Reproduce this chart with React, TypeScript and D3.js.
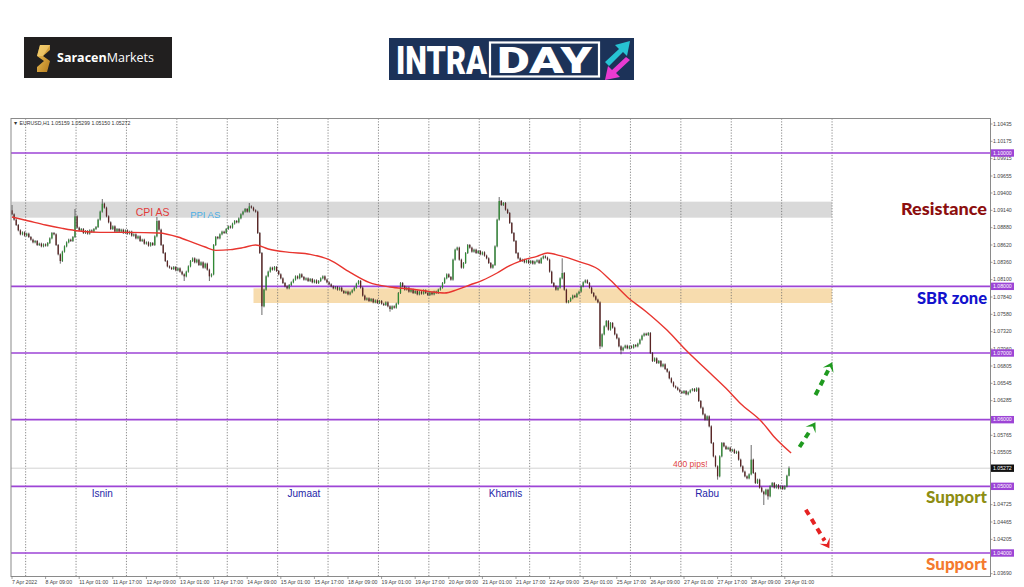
import React from "react";
import * as d3 from "d3";

// ---- DATA (prices in pips above 1.0000, e.g. 912 = 1.0912) ----
const firstOpen = 914;
const closes: number[] = [
  908, 900, 892,
  884, 878, 881, 876, 879, 874,
  870, 866, 868, 862, 864, 860, 863, 861, 865,
  872, 880, 878,
  862, 848, 838,
  852, 860, 866, 870, 868, 874,
  905, 888,
  884, 886, 880, 883, 879, 884, 882, 886, 889,
  900, 912, 924, 918,
  905, 896, 886, 890, 882,
  886, 882, 885, 880, 884, 879, 882, 876, 878, 872, 875, 868, 870, 864, 866, 861, 865, 862,
  875, 898, 885,
  862, 850, 838, 830,
  828, 826, 829, 824, 827, 822, 818, 815,
  822, 830, 838, 842, 836, 840, 832, 836, 828, 834, 825,
  815, 818,
  862, 874, 872,
  878, 882, 880, 886, 890, 888, 894, 898, 896, 902,
  908, 912, 916, 912, 920, 918, 914, 912,
  880, 850, 770, 795, 815, 822,
  828, 825, 829, 823, 818, 812,
  805, 800, 797, 802,
  806, 810, 815, 812, 818, 814, 810, 812, 808, 811, 806, 809, 805, 808, 812, 815, 810, 806, 803,
  800, 797, 799, 795, 798, 793, 790, 792, 788, 791, 794, 798, 804, 808,
  798, 786, 780, 782, 778, 781, 776, 779, 775, 778, 774, 772, 776, 770, 766, 770, 768, 774,
  790, 805, 800,
  795, 798, 792, 795, 790, 793, 788, 792, 789, 794, 790, 787, 791, 788, 792, 790, 795, 798,
  805, 812, 818, 814, 810,
  840, 855, 858,
  840, 828, 835,
  850, 862, 858,
  852, 855, 850, 853, 848, 851, 846, 842,
  835, 828, 832,
  860, 900, 928,
  922, 925, 915, 910,
  895, 880, 868, 850,
  842, 838, 840, 836, 839, 835, 838, 834, 837, 839, 835,
  842, 845, 843, 840,
  822, 805, 800,
  795, 798,
  812, 820,
  795, 776, 778,
  782, 786, 784, 789, 792,
  800, 806, 809, 805,
  798, 790, 785, 780, 776,
  710,
  728, 740, 748, 735, 745, 738,
  728, 722, 710, 704,
  708, 711, 707, 710, 708, 712, 710, 714,
  720, 726, 729, 727, 730,
  700, 688,
  692, 685, 688, 680, 683, 676, 672,
  662, 656, 650, 648, 645,
  642, 640, 643, 638, 641, 644, 646, 643, 647,
  628, 618,
  608, 600, 605, 590,
  565, 545, 530, 515,
  545, 565,
  560, 556, 558, 553, 555, 550, 552,
  540, 530, 522, 515, 512,
  518, 540,
  520, 505, 510, 498,
  492, 488, 495, 485,
  500, 505, 498, 502, 497, 500, 496,
  500, 515.9, 527.2,
];
const highSpikes: [number, number][] = [
  [0, 922], [30, 916], [43, 931], [69, 904], [113, 925], [232, 934], [262, 842], [352, 562], [370, 529.9],
];
const lowSpikes: [number, number][] = [
  [23, 834], [82, 808], [94, 808], [119, 757], [180, 762], [280, 706], [290, 698], [336, 510], [358, 472], [360, 480], [370, 515],
];
const maPoints: [number, number][] = [
  [0, 904], [8, 898], [16, 892], [24, 887], [32, 883], [42, 881], [56, 881], [70, 880], [79, 874],
  [86, 866], [92, 859], [97, 854], [104, 855], [110, 858], [116, 862], [122, 856], [132, 851],
  [142, 848], [151, 840], [161, 821], [170, 806], [180, 799], [190, 796], [199, 792], [206, 790],
  [212, 795], [218, 802], [224, 809], [231, 820], [237, 831], [243, 839], [250, 845], [255, 850],
  [261, 846], [270, 837], [279, 826], [285, 809], [293, 784], [302, 762], [312, 734], [321, 704],
  [331, 674], [340, 647], [347, 624], [357, 597], [363, 574], [371, 550],
];
const levels = [1000, 800, 700, 600, 500, 400];
const axisTicks = [
  1043.5, 1017.5, 991.5, 965.5, 940, 914, 888, 862, 836, 810, 784, 758, 732, 706, 680.5, 654.5,
  628.5, 576.5, 550.5, 472.5, 446.5, 420.5, 369,
];
const timeLabels = [
  "7 Apr 2022", "8 Apr 09:00", "11 Apr 01:00", "11 Apr 17:00", "12 Apr 09:00", "13 Apr 01:00",
  "13 Apr 17:00", "14 Apr 09:00", "15 Apr 01:00", "15 Apr 17:00", "18 Apr 09:00", "19 Apr 01:00",
  "19 Apr 17:00", "20 Apr 09:00", "21 Apr 01:00", "21 Apr 17:00", "22 Apr 09:00", "25 Apr 01:00",
  "25 Apr 17:00", "26 Apr 09:00", "27 Apr 01:00", "27 Apr 17:00", "28 Apr 09:00", "29 Apr 01:00",
];
const barsPerLabel = 16;
const barsPerDay = 24;
const firstDayStart = 7;
const dayCount = 17;
const lastPrice = 527.2;
const resistanceZone = { lo: 903, hi: 927, from: -1, to: 391 };
const sbrZone = { lo: 775, hi: 797, from: 115, to: 391 };
const dayNames: [number, string][] = [[1, "Isnin"], [5, "Jumaat"], [9, "Khamis"], [13, "Rabu"]];
const dayNameLevel = 484;
const eventNotes = [
  { bar: 67, price: 905, text: "CPI AS", color: "#e23b3b", size: 10.5 },
  { bar: 92, price: 902, text: "PPI AS", color: "#4aaee6", size: 9.5 },
  { bar: 323, price: 529, text: "400 pips!", color: "#e04444", size: 8.5 },
];
const sideLabels = [
  { price: 907, text: "Resistance", color: "#8c0e0e", width: 86 },
  { price: 774, text: "SBR zone", color: "#1212cc", width: 70 },
  { price: 475, text: "Support", color: "#8d8d12", width: 61 },
  { price: 374, text: "Support", color: "#f47a2e", width: 61 },
];
const arrows = [
  { from: [375, 559], to: [382.6, 596], color: "#1f9a1f" },
  { from: [382.6, 637], to: [390.6, 686], color: "#1f9a1f" },
  { from: [378, 465], to: [389.2, 407], color: "#e52222" },
];
const header = "EURUSD,H1  1.05159 1.05299 1.05150 1.05272";

const W = 1024;
const H = 587;
const plot = { left: 11, right: 990.5, top: 118.5, bottom: 576.5 };

const fmt = (p: number) => ((10000 + p) / 10000).toFixed(5);

export default function App() {
  const x = d3.scaleLinear().domain([0, 370]).range([12, 789]);
  const y = d3.scaleLinear().domain([1000, 400]).range([153, 553]);
  const bw = (x(1) - x(0)) * 0.62;

  const hiMap = new Map(highSpikes);
  const loMap = new Map(lowSpikes);
  const candles = closes.map((c, i) => {
    const o = i === 0 ? firstOpen : closes[i - 1];
    const hi = hiMap.get(i) ?? Math.max(o, c) + 1.5;
    const lo = loMap.get(i) ?? Math.min(o, c) - 1.5;
    return { i, o, c, hi, lo };
  });

  const maLine = d3
    .line<[number, number]>()
    .x((d) => x(d[0]))
    .y((d) => y(d[1]))
    .curve(d3.curveMonotoneX)(maPoints) as string;

  const gridBars = d3.range(dayCount).map((k) => firstDayStart + k * barsPerDay - 0.5);
  const font = "Liberation Sans, Arial, sans-serif";

  const arrowEls = arrows.map((a, k) => {
    const x1 = x(a.from[0]), y1 = y(a.from[1]);
    const x2 = x(a.to[0]), y2 = y(a.to[1]);
    const ang = Math.atan2(y2 - y1, x2 - x1);
    const len = Math.hypot(x2 - x1, y2 - y1);
    const head = 10;
    const ux = Math.cos(ang), uy = Math.sin(ang);
    const bx = x2 - ux * (head - 1), by = y2 - uy * (head - 1);
    const nx = -uy, ny = ux;
    const hw = 6;
    const p = `M${x2},${y2} L${bx + nx * hw},${by + ny * hw} L${x2 - ux * 5},${y2 - uy * 5} L${bx - nx * hw},${by - ny * hw} Z`;
    return (
      <g key={k}>
        <line
          x1={x1}
          y1={y1}
          x2={x1 + ux * (len - head + 1)}
          y2={y1 + uy * (len - head + 1)}
          stroke={a.color}
          strokeWidth={4}
          strokeDasharray="6 5"
        />
        <path d={p} fill={a.color} />
      </g>
    );
  });

  return (
    <svg
      width={W}
      height={H}
      style={{ position: "absolute", left: 0, top: 0, background: "#fff" }}
      fontFamily={font}
    >
      <defs>
        <linearGradient id="gold" x1="0" y1="0" x2="1" y2="1">
          <stop offset="0" stopColor="#f3c65a" />
          <stop offset="1" stopColor="#b47b1e" />
        </linearGradient>
      </defs>
      <rect x={0} y={0} width={W} height={H} fill="#fff" />

      {/* Saracen logo */}
      <rect x={24} y={37} width={148} height={41} fill="#211f1f" />
      <path d="M40,45 L50,45 L50,50 L43,56 L50,61 L47,72 L37,72 L37,67 L44,61 L37,56 Z" fill="url(#gold)" />
      <path d="M40,45 L50,45 L43,56 L37,56 Z" fill="#f6d37a" opacity={0.6} />
      <text x={57} y={62} fill="#fff" fontSize={12.5} fontFamily="Open Sans, sans-serif">
        <tspan fontWeight={700}>Saracen</tspan>
        <tspan fontWeight={400}>Markets</tspan>
      </text>

      {/* INTRADAY logo */}
      <rect x={389} y={38} width={245} height={42} fill="#1c3258" />
      <text x={396} y={74} fill="#fff" fontSize={39} fontWeight={900} fontFamily="Roboto, sans-serif" textLength={91} lengthAdjust="spacingAndGlyphs">
        INTRA
      </text>
      <rect x={490} y={42.5} width={109} height={34} fill="none" stroke="#fff" strokeWidth={2.2} />
      <text x={497} y={73} fill="#fff" fontSize={37} fontWeight={900} fontFamily="Roboto, sans-serif" textLength={95} lengthAdjust="spacingAndGlyphs">
        DAY
      </text>
      <path d="M605,62 L619,49 L615,45 L630,41 L627,56 L623,52 L609,66 Z" fill="#27c3d3" />
      <path d="M630,60 L616,73 L620,77 L605,80 L608,66 L612,70 L626,57 Z" fill="#e83bd1" />

      {/* zones */}
      <rect
        x={plot.left + 0.5}
        y={y(resistanceZone.hi)}
        width={x(resistanceZone.to - 0.5) - plot.left - 0.5}
        height={y(resistanceZone.lo) - y(resistanceZone.hi)}
        fill="#d9d9d9"
      />
      <rect
        x={x(sbrZone.from)}
        y={y(sbrZone.hi)}
        width={x(sbrZone.to - 0.5) - x(sbrZone.from)}
        height={y(sbrZone.lo) - y(sbrZone.hi)}
        fill="#f7dcae"
      />

      {/* grid */}
      {gridBars.map((g) => (
        <line
          key={g}
          x1={x(g)}
          x2={x(g)}
          y1={plot.top}
          y2={plot.bottom}
          stroke="#6a6a6a"
          strokeWidth={0.8}
          strokeDasharray="1.2 1.6"
        />
      ))}

      {/* current price line */}
      <line x1={plot.left} x2={plot.right} y1={y(lastPrice)} y2={y(lastPrice)} stroke="#c8c8c8" strokeWidth={0.8} />

      {/* levels */}
      {levels.map((l) => (
        <line key={l} x1={plot.left} x2={plot.right} y1={y(l)} y2={y(l)} stroke="#9d45d6" strokeWidth={1.6} />
      ))}

      {/* candles */}
      {candles.map((d) => {
        const cx = x(d.i);
        const up = d.c >= d.o;
        const top = y(Math.max(d.o, d.c));
        const h = Math.max(0.8, Math.abs(y(d.o) - y(d.c)));
        return (
          <g key={d.i}>
            <line x1={cx} x2={cx} y1={y(d.hi)} y2={y(d.lo)} stroke="#2b2b2b" strokeWidth={0.7} />
            <rect x={cx - bw / 2} y={top} width={bw} height={h} fill={up ? "#2f8a34" : "#5a2424"} />
          </g>
        );
      })}

      {/* moving average */}
      <path d={maLine} fill="none" stroke="#e8352f" strokeWidth={1.4} />

      {/* frame */}
      <rect
        x={plot.left}
        y={plot.top}
        width={plot.right - plot.left}
        height={plot.bottom - plot.top}
        fill="none"
        stroke="#8a8a8a"
        strokeWidth={1}
      />

      {/* header */}
      <text x={13} y={125} fontSize={5.2} fill="#333">
        ▼ {header}
      </text>

      {/* right axis */}
      {axisTicks.map((t) => (
        <g key={t}>
          <line x1={plot.right} x2={plot.right + 2} y1={y(t)} y2={y(t)} stroke="#777" strokeWidth={0.7} />
          <text x={993} y={y(t)} dy="0.35em" fontSize={5.2} fill="#444">
            {fmt(t)}
          </text>
        </g>
      ))}
      {levels.map((l) => (
        <g key={l}>
          <rect x={991} y={y(l) - 3.7} width={23} height={7.4} fill="#9d45d6" />
          <text x={993} y={y(l)} dy="0.35em" fontSize={5.2} fill="#fff">
            {fmt(l)}
          </text>
        </g>
      ))}
      <rect x={991} y={y(lastPrice) - 3.7} width={23} height={7.4} fill="#111" />
      <text x={993} y={y(lastPrice)} dy="0.35em" fontSize={5.2} fill="#fff">
        {fmt(lastPrice)}
      </text>

      {/* bottom axis */}
      {timeLabels.map((t, k) => {
        const tx = x(k * barsPerLabel);
        return (
          <g key={t}>
            <line x1={tx} x2={tx} y1={plot.bottom} y2={plot.bottom + 2.5} stroke="#777" strokeWidth={0.7} />
            <text x={tx} y={584} fontSize={5.2} fill="#444">
              {t}
            </text>
          </g>
        );
      })}

      {/* annotations */}
      {eventNotes.map((n) => (
        <text key={n.text} x={x(n.bar)} y={y(n.price)} textAnchor="middle" fontSize={n.size} fill={n.color}>
          {n.text}
        </text>
      ))}
      {dayNames.map(([k, name]) => (
        <text
          key={name}
          x={x(firstDayStart + k * barsPerDay + 12)}
          y={y(dayNameLevel)}
          textAnchor="middle"
          fontSize={10}
          fill="#2525a8"
        >
          {name}
        </text>
      ))}
      {sideLabels.map((s, k) => (
        <text
          key={k}
          x={987}
          y={y(s.price)}
          textAnchor="end"
          fontSize={17}
          fontWeight={900}
          fill={s.color}
          fontFamily="Lato, Open Sans, sans-serif"
          textLength={s.width}
          lengthAdjust="spacingAndGlyphs"
        >
          {s.text}
        </text>
      ))}
      {arrowEls}
    </svg>
  );
}
